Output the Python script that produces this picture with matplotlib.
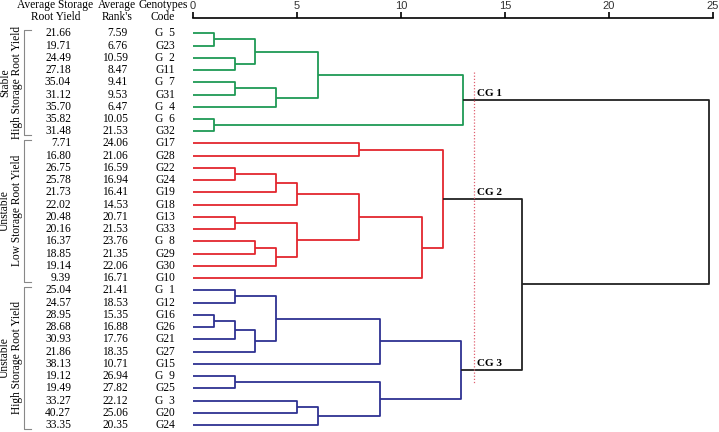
import matplotlib
matplotlib.use("Agg")
import matplotlib.pyplot as plt
from matplotlib.transforms import blended_transform_factory

# table columns (top to bottom)
yield_vals = ["21.66", "19.71", "24.49", "27.18", "35.04", "31.12", "35.70", "35.82", "31.48",
              "7.71", "16.80", "26.75", "25.78", "21.73", "22.02", "20.48", "20.16", "16.37", "18.85", "19.14", "9.39",
              "25.04", "24.57", "28.95", "28.68", "30.93", "21.86", "38.13", "19.12", "19.49", "33.27", "40.27", "33.35"]
rank_vals = ["7.59", "6.76", "10.59", "8.47", "9.41", "9.53", "6.47", "10.05", "21.53",
             "24.06", "21.06", "16.59", "16.94", "16.41", "14.53", "20.71", "21.53", "23.76", "21.35", "22.06", "16.71",
             "21.41", "18.53", "15.35", "16.88", "17.76", "18.35", "10.71", "26.94", "27.82", "22.12", "25.06", "20.35"]
codes = ["G  5", "G23", "G  2", "G11", "G  7", "G31", "G  4", "G  6", "G32",
         "G17", "G28", "G22", "G24", "G19", "G18", "G13", "G33", "G  8", "G29", "G30", "G10",
         "G  1", "G12", "G16", "G26", "G21", "G27", "G15", "G  9", "G25", "G  3", "G20", "G24"]

# merges: (child a, child b, distance); leaves 0..32, new clusters 33, 34, ...
merges = [
    (0, 1, 1.0), (2, 3, 2.0), (33, 34, 3.0), (4, 5, 2.0), (36, 6, 4.0), (35, 37, 6.0),
    (7, 8, 1.0), (38, 39, 13.0),                                   # 40 green
    (9, 10, 8.0), (11, 12, 2.0), (42, 13, 4.0), (43, 14, 5.0), (15, 16, 2.0),
    (17, 18, 3.0), (46, 19, 4.0), (45, 47, 5.0), (44, 48, 8.0), (49, 20, 11.0),
    (41, 50, 12.0),                                                # 51 red
    (21, 22, 2.0), (23, 24, 1.0), (53, 25, 2.0), (54, 26, 3.0), (52, 55, 4.0),
    (56, 27, 9.0), (28, 29, 2.0), (30, 31, 5.0), (59, 32, 6.0), (58, 60, 9.0),
    (57, 61, 12.9),                                                # 62 blue
    (51, 62, 15.8), (40, 63, 24.8),
]
cluster_colors = {40: "#1f9a55", 51: "#e3262e", 62: "#2e3192"}
cut = 13.5
groups = [("Stable\nHigh Storage Root Yield", 0, 8),
          ("Unstable\nLow Storage Root Yield", 9, 20),
          ("Unstable\nHigh Storage Root Yield", 21, 32)]

serif = "Liberation Serif"
n = len(codes)

fig = plt.figure(figsize=(7.19, 4.32), dpi=100)
W, H = 719, 432
ax = fig.add_axes([193 / W, 1 - 430 / H, (713 - 193) / W, (430 - 18) / H])
ax.set_xlim(0, 25)
ax.set_ylim(32.41, -1.25)

# positions of nodes
pos = {i: (0.0, float(i)) for i in range(n)}
children = {}
for k, (a, b, d) in enumerate(merges):
    cid = n + k
    pos[cid] = (d, (pos[a][1] + pos[b][1]) / 2)
    children[cid] = (a, b)

color_of = {}
def paint(c, col):
    color_of[c] = col
    if c in children:
        for ch in children[c]:
            paint(ch, col)
for c, col in cluster_colors.items():
    paint(c, col)

for k, (a, b, d) in enumerate(merges):
    cid = n + k
    col = color_of.get(cid, "#222222")
    xa, ya = pos[a]
    xb, yb = pos[b]
    ax.plot([xa, d, d, xb], [ya, ya, yb, yb], color=col, lw=1.3, solid_capstyle="butt")

ax.plot([cut, cut], [3.2, 28.6], color="#e06070", lw=0.9, ls=(0, (1, 1.5)))
for c, lab in zip([40, 51, 62], ["CG 1", "CG 2", "CG 3"]):
    ax.text(cut + 0.15, pos[c][1] - 0.15, lab, fontsize=8, fontweight="bold",
            family=serif, ha="left", va="bottom")

# top axis
for s in ["left", "right", "bottom"]:
    ax.spines[s].set_visible(False)
ax.spines["top"].set_linewidth(1.2)
ax.xaxis.tick_top()
ax.set_xticks([0, 5, 10, 15, 20, 25])
ax.tick_params(axis="x", length=4, width=1.2, pad=1, labelsize=8, labelcolor="#333333")
for t in ax.get_xticklabels():
    t.set_family("Liberation Sans")
ax.set_yticks([])

# table
tr = blended_transform_factory(fig.transFigure, ax.transData)
fs = 8.3
for i in range(n):
    ax.text(71 / W, i, yield_vals[i], transform=tr, ha="right", va="center", fontsize=fs, family=serif)
    ax.text(128 / W, i, rank_vals[i], transform=tr, ha="right", va="center", fontsize=fs, family=serif)
    ax.text(165 / W, i, codes[i], transform=tr, ha="center", va="center", fontsize=fs, family=serif)

headers = [("Average Storage\nRoot Yield", 55.5), ("Average\nRank's", 117), ("Genotypes\nCode", 163)]
for txt, x in headers:
    fig.text(x / W, 1 - 11 / H, txt, ha="center", va="center", fontsize=fs, family=serif,
             linespacing=0.95)

for txt, r0, r1 in groups:
    mid = (r0 + r1) / 2
    ax.text(11 / W, mid, txt, transform=tr, rotation=90, ha="center", va="center",
            fontsize=fs, family=serif, linespacing=1.0, multialignment="center")
    ax.plot([31 / W, 23.5 / W, 23.5 / W, 31 / W], [r0 - 0.3, r0 - 0.3, r1 + 0.3, r1 + 0.3],
            transform=tr, color="#888888", lw=0.8, clip_on=False)

fig.savefig("out.png", dpi=100)
